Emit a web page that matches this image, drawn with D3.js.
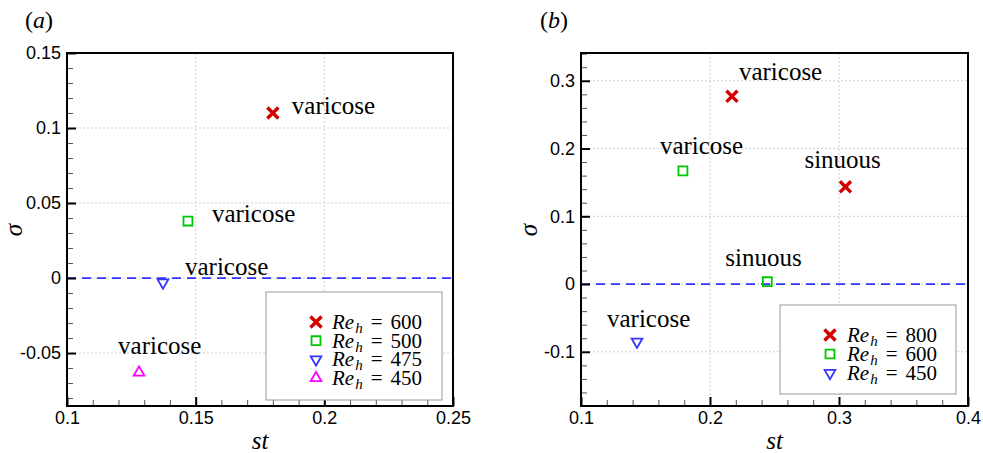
<!DOCTYPE html>
<html>
<head>
<meta charset="utf-8">
<script src="https://cdn.jsdelivr.net/npm/d3@7"></script>
<style>
  body { margin: 0; background: #fff; }
  svg text { fill: #000; }
</style>
</head>
<body>
<div id="vis-holder"></div>
<script>
// Data
// panel (a)
const stA = [0.18, 0.147, 0.1373, 0.128];
const sigmaA = [0.11, 0.038, -0.003, -0.063];
const reA = [600, 500, 475, 450];
const modeA = ["varicose", "varicose", "varicose", "varicose"];
const legendReA = [600, 500, 475, 450];

// panel (b)
const stB = [0.217, 0.305, 0.179, 0.2444, 0.1434];
const sigmaB = [0.277, 0.1435, 0.167, 0.0034, -0.085];
const reB = [800, 800, 600, 600, 450];
const modeB = ["varicose", "sinuous", "varicose", "sinuous", "varicose"];
const legendReB = [800, 600, 450];

// tick values
const xTicksA = [0.1, 0.15, 0.2, 0.25];
const yTicksA = [-0.05, 0, 0.05, 0.1, 0.15];
const xTicksB = [0.1, 0.2, 0.3, 0.4];
const yTicksB = [-0.1, 0, 0.1, 0.2, 0.3];

// marker style per Re (panel a and panel b differ)
const styleA = {
  600: { shape: "x", color: "#d40000" },
  500: { shape: "square", color: "#00c800" },
  475: { shape: "down", color: "#3535ff" },
  450: { shape: "up", color: "#ff00ff" }
};
const styleB = {
  800: { shape: "x", color: "#d40000" },
  600: { shape: "square", color: "#00c800" },
  450: { shape: "down", color: "#3535ff" }
};

const SERIF = '"Liberation Serif", "Times New Roman", serif';
const SANS = '"Liberation Sans", Arial, sans-serif';

const width = 983, height = 453;

const svg = d3.select("#vis-holder")
  .append("svg")
  .attr("width", width)
  .attr("height", height)
  .attr("viewBox", [0, 0, width, height]);

const fmt = (d) => String(Math.round(d * 1000) / 1000);

function markerPath(shape) {
  if (shape === "x") return d3.symbol(d3.symbolTimes, 82)();
  if (shape === "square") return d3.symbol(d3.symbolSquare, 80)();
  return d3.symbol(d3.symbolTriangle, 50)();
}

function drawMarker(g, shape, color, x, y) {
  g.append("path")
    .attr("d", markerPath(shape))
    .attr("transform", `translate(${x},${y})` + (shape === "down" ? " rotate(180)" : ""))
    .attr("fill", "none")
    .attr("stroke", color)
    .attr("stroke-width", shape === "x" ? 3.4 : 1.8)
    .attr("stroke-linejoin", "miter");
}

function drawPanel(cfg) {
  const g = svg.append("g");
  const x = d3.scaleLinear().domain(cfg.xDomain).range([cfg.left, cfg.right]);
  const y = d3.scaleLinear().domain(cfg.yDomain).range([cfg.bottom, cfg.top]);

  // grid
  g.append("g").selectAll("line")
    .data(cfg.xTicks.filter(d => d > cfg.xDomain[0] && d < cfg.xDomain[1]))
    .join("line")
    .attr("x1", d => x(d)).attr("x2", d => x(d))
    .attr("y1", cfg.top).attr("y2", cfg.bottom)
    .attr("stroke", "#d0d0d0").attr("stroke-dasharray", "2,2");
  g.append("g").selectAll("line")
    .data(cfg.yTicks.filter(d => d > cfg.yDomain[0] && d < cfg.yDomain[1]))
    .join("line")
    .attr("y1", d => y(d)).attr("y2", d => y(d))
    .attr("x1", cfg.left).attr("x2", cfg.right)
    .attr("stroke", "#d0d0d0").attr("stroke-dasharray", "2,2");

  // zero line
  g.append("line")
    .attr("x1", cfg.left).attr("x2", cfg.right)
    .attr("y1", y(0)).attr("y2", y(0))
    .attr("stroke", "#3333ff")
    .attr("stroke-width", 1.8)
    .attr("stroke-dasharray", "9,6");

  // minor ticks
  const minorX = d3.range(cfg.xDomain[0], cfg.xDomain[1] + 1e-9, cfg.xMinor)
    .map(d => +d.toFixed(4)).filter(d => !cfg.xTicks.some(t => Math.abs(t - d) < 1e-6));
  const minorY = d3.range(Math.ceil(cfg.yDomain[0] / cfg.yMinor) * cfg.yMinor, cfg.yDomain[1] + 1e-9, cfg.yMinor)
    .map(d => +d.toFixed(4)).filter(d => !cfg.yTicks.some(t => Math.abs(t - d) < 1e-6));

  g.append("g")
    .attr("transform", `translate(0,${cfg.bottom})`)
    .call(d3.axisBottom(x).tickValues(minorX).tickFormat("").tickSizeInner(-6).tickSizeOuter(0))
    .call(a => a.select(".domain").remove())
    .call(a => a.selectAll("line").attr("stroke", "#555"));
  g.append("g")
    .attr("transform", `translate(${cfg.left},0)`)
    .call(d3.axisLeft(y).tickValues(minorY).tickFormat("").tickSizeInner(-6).tickSizeOuter(0))
    .call(a => a.select(".domain").remove())
    .call(a => a.selectAll("line").attr("stroke", "#555"));

  // major axes
  g.append("g")
    .attr("transform", `translate(0,${cfg.bottom})`)
    .call(d3.axisBottom(x).tickValues(cfg.xTicks).tickFormat(fmt).tickSizeInner(-9).tickSizeOuter(0).tickPadding(5))
    .call(a => a.select(".domain").remove())
    .call(a => a.selectAll("line").attr("stroke", "#000").attr("stroke-width", 2))
    .call(a => a.selectAll("text").style("font-family", SANS).style("font-size", "18px").attr("fill", "#000"));
  g.append("g")
    .attr("transform", `translate(${cfg.left},0)`)
    .call(d3.axisLeft(y).tickValues(cfg.yTicks).tickFormat(fmt).tickSizeInner(-9).tickSizeOuter(0).tickPadding(6))
    .call(a => a.select(".domain").remove())
    .call(a => a.selectAll("line").attr("stroke", "#000").attr("stroke-width", 2))
    .call(a => a.selectAll("text").style("font-family", SANS).style("font-size", "18px").attr("fill", "#000"));

  // frame
  g.append("rect")
    .attr("x", cfg.left).attr("y", cfg.top)
    .attr("width", cfg.right - cfg.left).attr("height", cfg.bottom - cfg.top)
    .attr("fill", "none").attr("stroke", "#000").attr("stroke-width", 2);

  // points + labels
  cfg.st.forEach((s, i) => {
    const st = cfg.style[cfg.re[i]];
    const px = x(s), py = y(cfg.sigma[i]);
    drawMarker(g, st.shape, st.color, px, py);
    g.append("text")
      .attr("x", px + cfg.labelOff[i][0])
      .attr("y", py + cfg.labelOff[i][1])
      .style("font-family", SERIF)
      .style("font-size", "25px")
      .text(cfg.mode[i]);
  });

  // legend
  const lg = cfg.legend;
  g.append("rect")
    .attr("x", lg.x0).attr("y", lg.y0)
    .attr("width", lg.x1 - lg.x0).attr("height", lg.y1 - lg.y0)
    .attr("fill", "#fff").attr("stroke", "#9a9a9a").attr("stroke-width", 1);
  cfg.legendRe.forEach((r, i) => {
    const st = cfg.style[r];
    const ry = lg.rowY + i * lg.rowStep;
    drawMarker(g, st.shape, st.color, lg.markX, ry);
    const t = g.append("text")
      .attr("x", lg.textX).attr("y", ry + 7)
      .style("font-family", SERIF)
      .style("font-size", "21px");
    t.append("tspan").style("font-style", "italic").text("Re");
    t.append("tspan").style("font-style", "italic").style("font-size", "15px").attr("dx", 1).attr("dy", 4).text("h");
    t.append("tspan").attr("dx", 8).attr("dy", -4).text("=");
    t.append("tspan").attr("dx", 8).text(r);
  });

  // axis titles
  g.append("text")
    .attr("x", (cfg.left + cfg.right) / 2).attr("y", 449)
    .attr("text-anchor", "middle")
    .style("font-family", SERIF)
    .style("font-style", "italic").style("font-size", "25px")
    .text("st");
  g.append("text")
    .attr("transform", `translate(${cfg.sigmaX},230) rotate(-90)`)
    .attr("text-anchor", "middle")
    .style("font-family", SERIF)
    .style("font-style", "italic").style("font-size", "25px")
    .text("σ");

  // panel tag
  const tag = g.append("text")
    .attr("x", cfg.tagX).attr("y", 28)
    .style("font-family", SERIF)
    .style("font-size", "24px");
  tag.append("tspan").text("(");
  tag.append("tspan").style("font-style", "italic").text(cfg.tag);
  tag.append("tspan").text(")");
}

drawPanel({
  left: 67, right: 453, top: 53, bottom: 406,
  xDomain: [0.1, 0.25], yDomain: [-0.0853, 0.15],
  xTicks: xTicksA, yTicks: yTicksA, xMinor: 0.01, yMinor: 0.01,
  st: stA, sigma: sigmaA, re: reA, mode: modeA, style: styleA,
  labelOff: [[19, 1], [24, 1], [22, -8], [-21, -19]],
  legendRe: legendReA,
  legend: { x0: 266, y0: 292, x1: 442, y1: 400, rowY: 322, rowStep: 18.7, markX: 316, textX: 332 },
  sigmaX: 22, tagX: 25, tag: "a"
});

drawPanel({
  left: 581, right: 968, top: 53, bottom: 406,
  xDomain: [0.1, 0.4], yDomain: [-0.18, 0.341],
  xTicks: xTicksB, yTicks: yTicksB, xMinor: 0.02, yMinor: 0.02,
  st: stB, sigma: sigmaB, re: reB, mode: modeB, style: styleB,
  labelOff: [[7, -16], [-41, -19], [-23, -17], [-42, -16], [-30, -15]],
  legendRe: legendReB,
  legend: { x0: 780, y0: 305, x1: 956, y1: 394, rowY: 335, rowStep: 19, markX: 830, textX: 847 },
  sigmaX: 537, tagX: 540, tag: "b"
});
</script>
</body>
</html>
